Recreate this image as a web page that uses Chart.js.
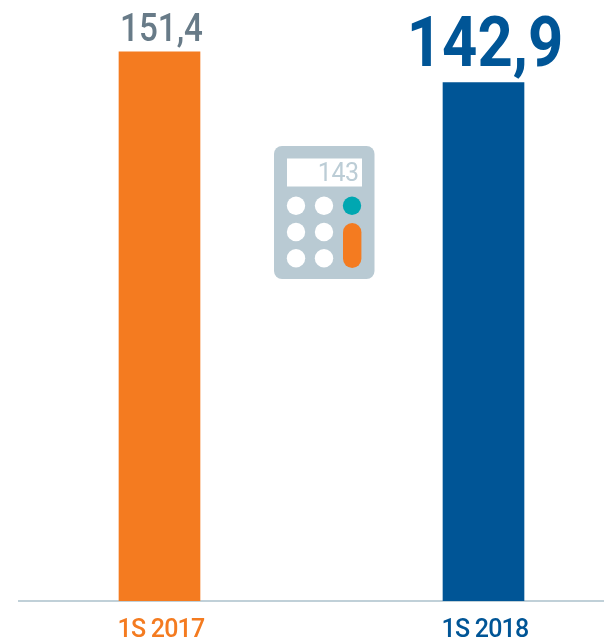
<!DOCTYPE html>
<html><head><meta charset="utf-8">
<style>html,body{margin:0;padding:0;background:#fff}#w{width:604px;height:643px;position:relative}</style>
<script src="https://cdn.jsdelivr.net/npm/chart.js@4/dist/chart.umd.min.js"></script>
</head><body><div id="w"><canvas id="c" width="604" height="643"></canvas></div>
<script>
const categories = ['1S 2017', '1S 2018'];
const values = [151.4, 142.9];
const valueLabels = ['151,4', '142,9'];
const barColors = ['#f47b20', '#005596'];
const tickColors = ['#f47b20', '#005596'];
const FONT = 'Roboto,"Liberation Sans",sans-serif';
const labelStyles = [
  {font:'500 39.5px '+FONT, color:'#687b88', squeeze:0.84, gap:10.5, dx:2},
  {font:'bold 70px '+FONT, color:'#005596', squeeze:0.88, gap:17, dx:1.5}
];
const valuePlugin = {
  id:'valueLabels',
  afterDatasetsDraw(chart){
    const ctx = chart.ctx, meta = chart.getDatasetMeta(0);
    meta.data.forEach((bar,i)=>{
      const s = labelStyles[i];
      ctx.save();
      ctx.font = s.font; ctx.fillStyle = s.color;
      ctx.letterSpacing = '0px';
      ctx.textAlign = 'center'; ctx.textBaseline = 'alphabetic';
      ctx.translate(bar.x + s.dx, bar.y - s.gap);
      ctx.scale(s.squeeze, 1);
      ctx.fillText(valueLabels[i], 0, 0);
      ctx.restore();
    });
  }
};
const iconPlugin = {
  id:'calculator',
  afterDraw(chart){
    const c = chart.ctx;
    c.save();
    c.fillStyle = '#b9cad3';
    c.beginPath(); c.roundRect(274,146,100.5,133,8); c.fill();
    c.fillStyle = '#fff'; c.fillRect(287,158.5,75,28);
    c.fillStyle = '#bccdd6';
    c.font = '25px '+FONT; c.textAlign='right'; c.textBaseline='alphabetic';
    c.letterSpacing='-0.5px';
    c.fillText('143',358.5,181);
    c.letterSpacing='0px';
    c.fillStyle = '#fff';
    [[296,205.7],[324,205.7],[296,232],[324,232],[296,258.3],[324,258.3]].forEach(p=>{
      c.beginPath(); c.arc(p[0],p[1],9.2,0,Math.PI*2); c.fill();
    });
    c.fillStyle = '#00a7b1';
    c.beginPath(); c.arc(352,205.7,9.2,0,Math.PI*2); c.fill();
    c.fillStyle = '#f47b20';
    c.beginPath(); c.roundRect(343,223,18.4,45,9.2); c.fill();
    c.restore();
  }
};
const tickSpacing = {id:'tickSpacing', beforeDraw(chart){ chart.ctx.letterSpacing='-0.8px'; }, afterDatasetsDraw(chart){ chart.ctx.letterSpacing='0px'; }};
Chart.defaults.font.family = FONT;
new Chart(document.getElementById('c'),{
  type:'bar',
  data:{datasets:[{
    data: values.map((v,i)=>({x:i,y:v})),
    backgroundColor: barColors,
    barThickness: 81,
    borderWidth:0
  }]},
  options:{
    responsive:false, animation:false, devicePixelRatio:1,
    layout:{padding:{left:19,right:0,top:0,bottom:0}},
    plugins:{legend:{display:false},tooltip:{enabled:false},title:{display:false}},
    scales:{
      x:{
        type:'linear', offset:false, min:-0.4336, max:1.3719,
        afterBuildTicks(s){ s.ticks = categories.map((_,i)=>({value:i})); },
        afterFit(s){ s.height = 42; },
        grid:{display:false, drawTicks:false, offset:false},
        border:{display:true,color:'#c0d0d8',width:2},
        ticks:{
          autoSkip:false, maxRotation:0, padding:15, labelOffset:1.5,
          callback:(v)=>categories[v],
          color:(ctx)=>tickColors[ctx.index],
          font:{size:25, weight:'500'}
        }
      },
      y:{display:false,min:0,max:165.7}
    }
  },
  plugins:[tickSpacing,valuePlugin,iconPlugin]
});
</script></body></html>
